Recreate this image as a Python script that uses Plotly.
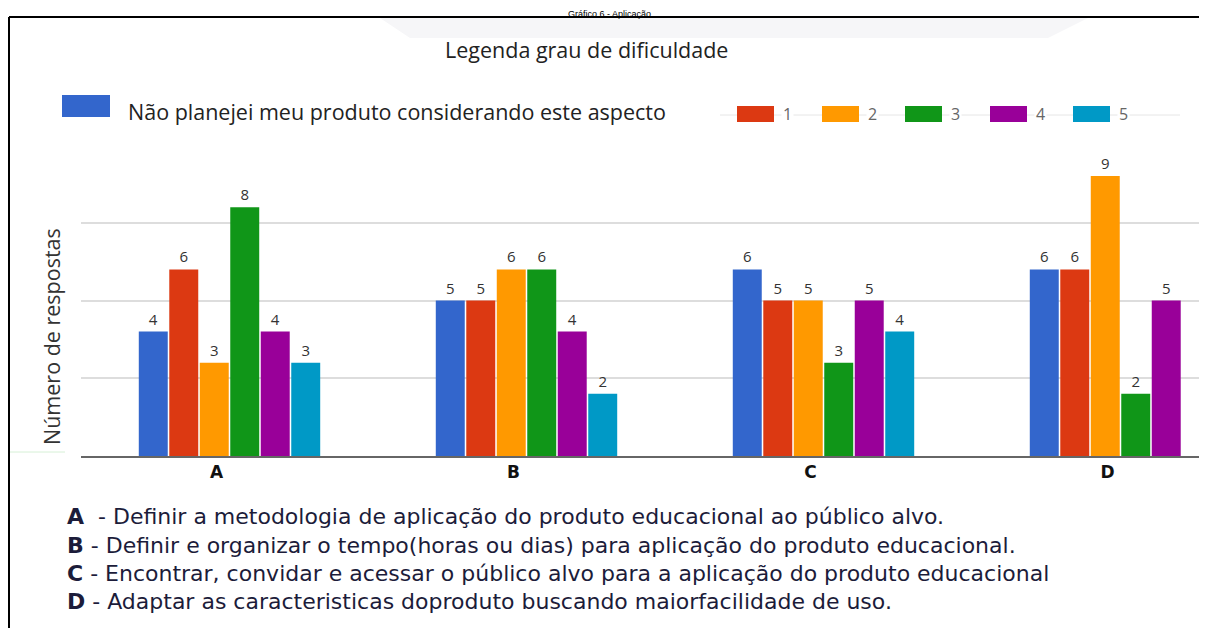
import plotly.graph_objects as go

categories = ["A", "B", "C", "D"]
series_names = ["Não planejei meu produto considerando este aspecto", "1", "2", "3", "4", "5"]
series_colors = ["#3366CC", "#DC3912", "#FF9900", "#109618", "#990099", "#0099C6"]
values = {
    "Não planejei meu produto considerando este aspecto": [4, 5, 6, 6],
    "1": [6, 5, 5, 6],
    "2": [3, 6, 5, 9],
    "3": [8, 6, 3, 2],
    "4": [4, 4, 5, 5],
    "5": [3, 2, 4, None],
}
descriptions = [
    ("A", "  - Definir a metodologia de aplicação do produto educacional ao público alvo."),
    ("B", " - Definir e organizar o tempo(horas ou dias) para aplicação do produto educacional."),
    ("C", " - Encontrar, convidar e acessar o público alvo para a aplicação do produto educacional"),
    ("D", " - Adaptar as caracteristicas doproduto buscando maiorfacilidade de uso."),
]
title_text = "Gráfico 6 - Aplicação"
legend_title = "Legenda grau de dificuldade"
y_title = "Número de respostas"

# page has an 8px body margin: figure is drawn at window offset (8, 8)
OFF = 8
W, H = 1207 - OFF, 628 - OFF
L, R, T, B = 81 - OFF, 0, 145 - OFF, 628 - 456
PW, PH = W - L - R, H - T - B


def px(X):
    return (X - OFF - L) / PW


def py(Y):
    return (H - B - (Y - OFF)) / PH


FONT = "Open Sans"
WIDE = "DejaVu Sans"

fig = go.Figure()
for name, color in zip(series_names, series_colors):
    vals = values[name]
    fig.add_trace(go.Bar(
        x=categories, y=vals, name=name,
        marker=dict(color=color, line=dict(width=0)),
        text=[("" if v is None else str(v)) for v in vals],
        textposition="outside",
        textfont=dict(family=FONT, size=15, color="#333333"),
        cliponaxis=False,
    ))

cat_w = 297.0
x_end = -0.5 + PW / cat_w

shapes = []
annotations = []

# frame
shapes.append(dict(type="line", xref="paper", yref="paper", x0=px(9), x1=px(1207), y0=py(17), y1=py(17),
                   line=dict(color="#000000", width=2)))
shapes.append(dict(type="line", xref="paper", yref="paper", x0=px(9), x1=px(9), y0=py(17), y1=py(628),
                   line=dict(color="#000000", width=2)))
# faint top shadow
shapes.append(dict(type="path", xref="paper", yref="paper",
                   path=f"M {px(380)} {py(18)} L {px(1088)} {py(18)} L {px(1048)} {py(38)} L {px(410)} {py(38)} Z",
                   fillcolor="#f6f6f8", line=dict(width=0), layer="below"))
# faint green line at left
shapes.append(dict(type="line", xref="paper", yref="paper", x0=px(10), x1=px(65), y0=py(452), y1=py(452),
                   line=dict(color="#d6f0d6", width=1)))

# title (sits just above the frame)
annotations.append(dict(text=title_text, xref="paper", yref="paper", x=px(609), y=py(8), showarrow=False,
                        xanchor="center", yanchor="top", borderpad=0,
                        font=dict(family="Liberation Sans, Arial", size=9, color="#000000")))
# legend title
annotations.append(dict(text=legend_title, xref="paper", yref="paper", x=px(586), y=py(50), showarrow=False,
                        xanchor="center", yanchor="middle", font=dict(family=FONT, size=21.5, color="#222222")))

# legend first item
shapes.append(dict(type="rect", xref="paper", yref="paper", x0=px(62), x1=px(110), y0=py(95), y1=py(117),
                   fillcolor=series_colors[0], line=dict(width=0)))
annotations.append(dict(text=series_names[0], xref="paper", yref="paper", x=px(126), y=py(111), showarrow=False,
                        xanchor="left", yanchor="middle", font=dict(family=FONT, size=21.5, color="#222222")))

# legend line for numbered items
shapes.append(dict(type="line", xref="paper", yref="paper", x0=px(720), x1=px(1180), y0=py(115), y1=py(115),
                   line=dict(color="#e6e6e6", width=1), layer="below"))
leg_x = [737, 822, 905, 990, 1073]
for i, xs in enumerate(leg_x):
    shapes.append(dict(type="rect", xref="paper", yref="paper", x0=px(xs), x1=px(xs + 37), y0=py(106), y1=py(122),
                       fillcolor=series_colors[i + 1], line=dict(width=0)))
    annotations.append(dict(text=series_names[i + 1], xref="paper", yref="paper", x=px(xs + 44), y=py(114),
                            showarrow=False, xanchor="left", yanchor="middle", bgcolor="white",
                            font=dict(family=FONT, size=16, color="#666666")))

# y-axis title
annotations.append(dict(text=y_title, xref="paper", yref="paper", x=px(51), y=py(337), showarrow=False,
                        textangle=-90, xanchor="center", yanchor="middle",
                        font=dict(family=FONT, size=21.5, color="#333333")))

# descriptions
desc_y = [516, 545, 573, 601]
for (letter, rest), yy in zip(descriptions, desc_y):
    annotations.append(dict(text=f"<b>{letter}</b>{rest}", xref="paper", yref="paper", x=px(65), y=py(yy),
                            showarrow=False, xanchor="left", yanchor="middle",
                            font=dict(family=WIDE, size=22, color="#1c1c3a")))

fig.update_layout(
    width=W, height=H,
    margin=dict(l=L, r=R, t=T, b=B, pad=0),
    paper_bgcolor="white", plot_bgcolor="white",
    barmode="group", bargap=0.384, bargroupgap=0.05,
    showlegend=False,
    shapes=shapes, annotations=annotations,
    xaxis=dict(range=[-0.5, x_end], tickmode="array", tickvals=categories,
               ticktext=[f"<b>{c}</b>" for c in categories],
               tickfont=dict(family=WIDE, size=17, color="#111111"),
               ticklabelshift=-13,
               showline=True, linecolor="#666666", linewidth=2, showgrid=False, ticks="", zeroline=False),
    yaxis=dict(range=[0, 10], tickmode="array", tickvals=[2.5, 5, 7.5], showticklabels=False,
               showgrid=True, gridcolor="#dddddd", gridwidth=2, zeroline=False, showline=False, ticks=""),
)

fig.write_html("out.html")
